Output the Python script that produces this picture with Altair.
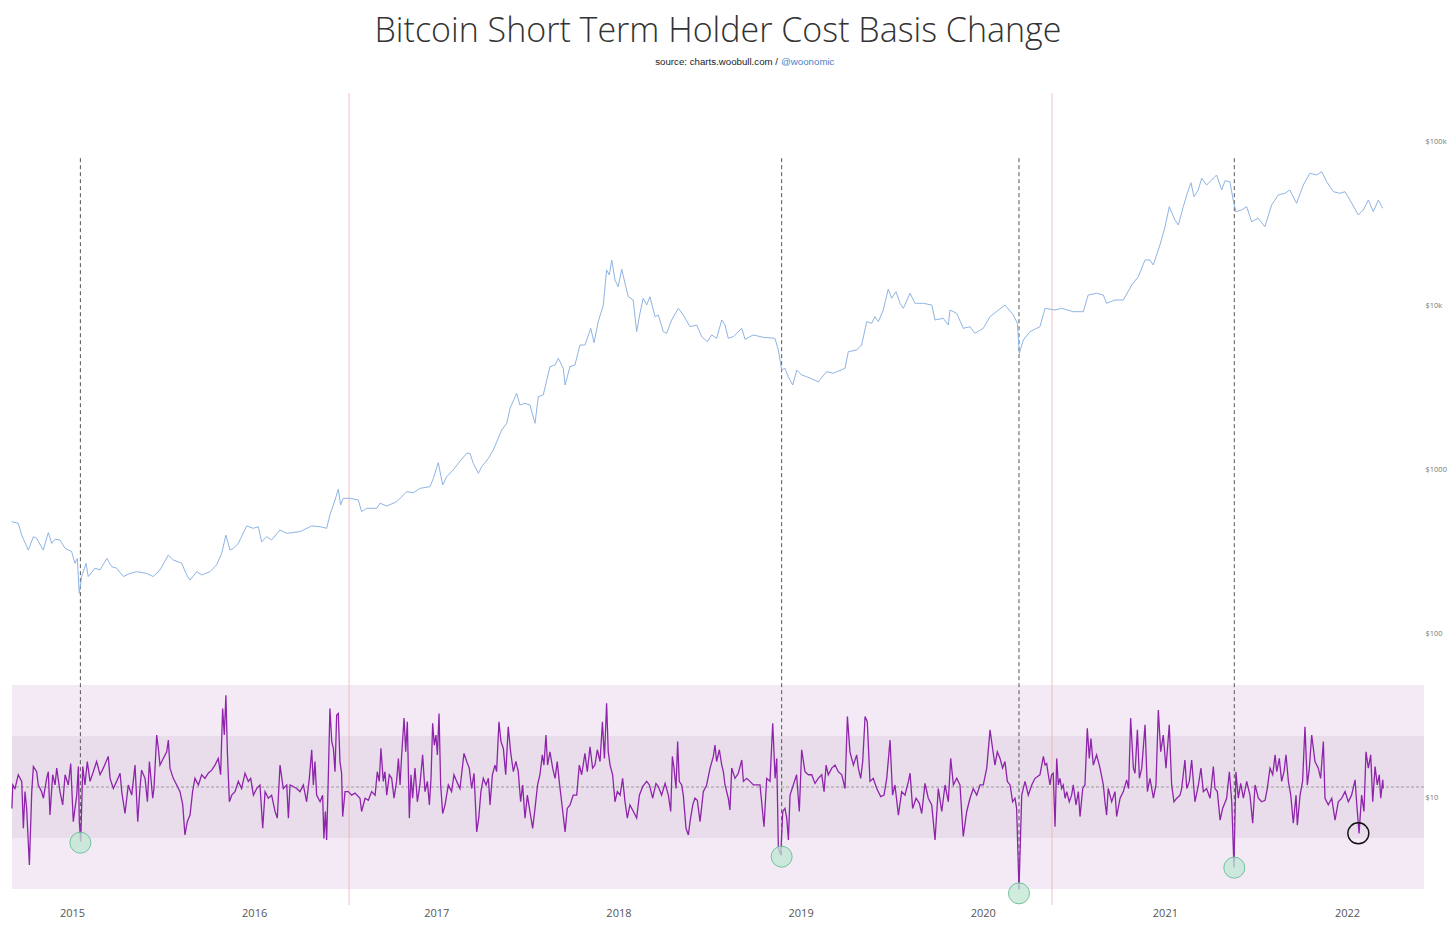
import altair as alt
import pandas as pd

# ---------------- data ----------------
# (decimal year, BTC price in USD)
price_series = [
    (2014.669, 484), (2014.705, 473), (2014.724, 401), (2014.760, 325), (2014.788, 392), (2014.806, 383),
    (2014.842, 325), (2014.870, 415), (2014.889, 357), (2014.907, 378), (2014.934, 374), (2014.962, 333),
    (2014.998, 318), (2015.016, 270), (2015.029, 289), (2015.040, 177), (2015.053, 224), (2015.077, 270),
    (2015.089, 224), (2015.126, 252), (2015.154, 246), (2015.191, 289), (2015.218, 257), (2015.245, 252),
    (2015.282, 224), (2015.318, 234), (2015.355, 240), (2015.410, 234), (2015.446, 224), (2015.483, 246),
    (2015.529, 303), (2015.556, 283), (2015.602, 270), (2015.630, 229), (2015.648, 213), (2015.685, 240),
    (2015.712, 229), (2015.758, 240), (2015.794, 264), (2015.822, 311), (2015.845, 401), (2015.867, 325),
    (2015.886, 333), (2015.913, 357), (2015.959, 456), (2015.995, 441), (2016.023, 451), (2016.041, 365),
    (2016.069, 392), (2016.096, 374), (2016.142, 431), (2016.179, 411), (2016.252, 421), (2016.316, 456),
    (2016.362, 451), (2016.398, 441), (2016.416, 532), (2016.444, 656), (2016.462, 763), (2016.475, 612),
    (2016.489, 672), (2016.526, 672), (2016.572, 656), (2016.590, 557), (2016.618, 584), (2016.673, 584),
    (2016.691, 627), (2016.728, 603), (2016.783, 641), (2016.837, 737), (2016.874, 727), (2016.911, 773),
    (2016.965, 791), (2016.984, 890), (2017.011, 1108), (2017.035, 810), (2017.057, 910), (2017.093, 1000),
    (2017.121, 1099), (2017.167, 1264), (2017.185, 1264), (2017.203, 1099), (2017.231, 955), (2017.249, 1047),
    (2017.286, 1178), (2017.313, 1324), (2017.359, 1754), (2017.387, 1927), (2017.405, 2378), (2017.441, 2936),
    (2017.459, 2490), (2017.487, 2551), (2017.514, 2490), (2017.542, 1927), (2017.560, 2799), (2017.587, 2867),
    (2017.624, 4265), (2017.652, 4368), (2017.670, 4799), (2017.697, 4170), (2017.707, 3298), (2017.734, 4265),
    (2017.761, 4368), (2017.789, 5783), (2017.816, 5783), (2017.848, 7311), (2017.866, 5973), (2017.889, 8025),
    (2017.917, 10141), (2017.935, 16580), (2017.950, 15455), (2017.963, 19080), (2017.981, 14410), (2017.999, 13115),
    (2018.018, 16745), (2018.036, 13750), (2018.054, 11395), (2018.081, 10880), (2018.100, 6971), (2018.118, 9027),
    (2018.136, 11143), (2018.155, 10141), (2018.173, 11395), (2018.201, 8607), (2018.219, 8813), (2018.246, 6971),
    (2018.265, 6816), (2018.292, 8215), (2018.329, 9683), (2018.356, 8813), (2018.393, 7478), (2018.430, 7658),
    (2018.457, 6499), (2018.488, 6057), (2018.512, 6657), (2018.539, 6353), (2018.567, 8215), (2018.585, 7658),
    (2018.603, 6353), (2018.631, 6499), (2018.677, 7311), (2018.695, 6266), (2018.740, 6657), (2018.795, 6443),
    (2018.859, 6353), (2018.878, 5392), (2018.896, 4072), (2018.914, 4170), (2018.932, 3706), (2018.957, 3298),
    (2018.979, 4072), (2019.006, 3796), (2019.033, 3706), (2019.097, 3454), (2019.143, 3975), (2019.179, 3887),
    (2019.244, 4170), (2019.262, 5264), (2019.308, 5392), (2019.335, 5783), (2019.363, 8025), (2019.390, 7844),
    (2019.408, 8607), (2019.427, 8025), (2019.454, 9454), (2019.481, 12642), (2019.500, 11143), (2019.524, 12223),
    (2019.546, 10387), (2019.564, 9683), (2019.601, 11951), (2019.628, 10387), (2019.674, 10387), (2019.720, 10141),
    (2019.738, 8215), (2019.783, 8414), (2019.811, 7658), (2019.820, 9454), (2019.857, 9027), (2019.893, 7311),
    (2019.930, 7478), (2019.957, 6816), (2020.003, 7311), (2020.040, 8607), (2020.122, 10141), (2020.168, 8813),
    (2020.190, 7844), (2020.201, 5148), (2020.223, 6204), (2020.259, 6971), (2020.314, 7478), (2020.342, 9683),
    (2020.397, 9454), (2020.433, 9683), (2020.497, 9231), (2020.552, 9231), (2020.579, 11670), (2020.625, 11951),
    (2020.662, 11670), (2020.680, 10387), (2020.726, 10880), (2020.772, 10880), (2020.818, 13427), (2020.854, 15090),
    (2020.891, 19080), (2020.918, 19080), (2020.936, 17783), (2020.973, 23550), (2021.001, 30440), (2021.024, 40320),
    (2021.055, 33460), (2021.074, 31180), (2021.101, 40320), (2021.120, 47520), (2021.143, 56470), (2021.160, 46400),
    (2021.183, 50970), (2021.202, 60070), (2021.229, 54670), (2021.257, 58650), (2021.284, 62910), (2021.312, 50970),
    (2021.330, 58070), (2021.357, 57260), (2021.375, 44290), (2021.390, 37580), (2021.421, 38490), (2021.449, 40320),
    (2021.476, 32660), (2021.512, 34260), (2021.549, 30440), (2021.586, 41290), (2021.622, 47520), (2021.659, 48670),
    (2021.686, 50970), (2021.723, 42290), (2021.760, 54670), (2021.796, 64430), (2021.833, 62910), (2021.861, 65900),
    (2021.888, 57260), (2021.925, 49780), (2021.961, 48670), (2021.989, 49780), (2022.016, 44290), (2022.062, 35880),
    (2022.089, 38490), (2022.117, 44290), (2022.144, 37580), (2022.172, 44290), (2022.196, 39410),
]

# (decimal year, cost-basis change in standard deviations)
osc_series = [
    (2014.670, -0.42), (2014.675, 0.04), (2014.687, -0.03), (2014.705, 0.24), (2014.724, 0.11), (2014.733, -0.81),
    (2014.742, -0.09), (2014.751, -0.42), (2014.766, -1.53), (2014.779, -0.09), (2014.788, 0.40), (2014.806, 0.30),
    (2014.815, 0.04), (2014.833, -0.09), (2014.843, -0.22), (2014.861, 0.17), (2014.870, 0.30), (2014.879, -0.55),
    (2014.894, 0.24), (2014.907, 0.04), (2014.916, 0.37), (2014.934, -0.09), (2014.949, -0.35), (2014.962, 0.24),
    (2014.980, 0.04), (2014.993, 0.46), (2015.007, -0.68), (2015.026, -0.16), (2015.035, 0.40), (2015.040, -0.68),
    (2015.048, -1.07), (2015.059, 0.40), (2015.071, 0.04), (2015.084, 0.50), (2015.099, 0.11), (2015.117, 0.30),
    (2015.135, 0.50), (2015.154, 0.24), (2015.172, 0.37), (2015.199, 0.60), (2015.209, 0.17), (2015.227, -0.03),
    (2015.245, 0.11), (2015.264, 0.27), (2015.273, -0.09), (2015.291, -0.52), (2015.309, 0.04), (2015.328, -0.16),
    (2015.346, 0.43), (2015.361, -0.68), (2015.373, -0.03), (2015.382, 0.33), (2015.401, 0.17), (2015.414, -0.29),
    (2015.425, 0.50), (2015.443, -0.22), (2015.450, -0.03), (2015.465, 1.02), (2015.474, 0.76), (2015.483, 0.43),
    (2015.501, 0.56), (2015.520, 0.69), (2015.529, 0.92), (2015.538, 0.37), (2015.556, 0.17), (2015.575, 0.04),
    (2015.593, -0.09), (2015.608, -0.35), (2015.620, -0.94), (2015.633, -0.68), (2015.648, -0.55), (2015.662, -0.09),
    (2015.675, 0.17), (2015.694, 0.04), (2015.712, 0.24), (2015.730, 0.17), (2015.748, 0.27), (2015.767, 0.33),
    (2015.785, 0.43), (2015.803, 0.56), (2015.816, 0.24), (2015.827, 1.54), (2015.836, 1.02), (2015.845, 1.80),
    (2015.853, 0.69), (2015.864, -0.29), (2015.877, -0.16), (2015.895, -0.09), (2015.913, 0.11), (2015.931, -0.03),
    (2015.950, 0.27), (2015.968, 0.11), (2015.981, 0.17), (2015.996, -0.16), (2016.014, -0.03), (2016.032, 0.04),
    (2016.047, -0.81), (2016.060, -0.09), (2016.078, -0.22), (2016.096, -0.16), (2016.115, -0.48), (2016.127, -0.61),
    (2016.142, 0.43), (2016.160, -0.03), (2016.179, 0.04), (2016.188, -0.61), (2016.197, 0.04), (2016.215, 0.01),
    (2016.233, -0.03), (2016.252, -0.09), (2016.270, 0.04), (2016.288, -0.29), (2016.303, 0.17), (2016.316, 0.73),
    (2016.325, 0.04), (2016.334, 0.50), (2016.343, -0.16), (2016.362, -0.29), (2016.376, -0.16), (2016.383, -1.01),
    (2016.391, -0.48), (2016.398, -1.04), (2016.407, 0.17), (2016.416, 1.54), (2016.426, 0.89), (2016.435, 0.76),
    (2016.444, 0.30), (2016.453, 1.41), (2016.462, 1.44), (2016.471, 0.50), (2016.480, 0.27), (2016.486, -0.58),
    (2016.499, -0.09), (2016.517, -0.09), (2016.535, -0.16), (2016.554, -0.12), (2016.581, -0.22), (2016.590, -0.48),
    (2016.609, -0.22), (2016.627, -0.26), (2016.645, -0.09), (2016.664, -0.16), (2016.676, 0.30), (2016.687, 0.11),
    (2016.696, 0.76), (2016.709, 0.11), (2016.718, 0.30), (2016.728, -0.16), (2016.742, 0.24), (2016.755, 0.17),
    (2016.768, -0.22), (2016.782, 0.11), (2016.792, 0.56), (2016.801, 0.04), (2016.810, 0.63), (2016.823, 1.35),
    (2016.832, 0.69), (2016.841, 1.28), (2016.852, -0.61), (2016.861, 0.24), (2016.870, -0.22), (2016.883, 0.37),
    (2016.896, -0.29), (2016.910, 0.04), (2016.925, 0.63), (2016.938, -0.09), (2016.951, 0.11), (2016.962, -0.35),
    (2016.971, 0.17), (2016.980, 1.25), (2016.989, 0.82), (2016.998, 1.02), (2017.006, 0.63), (2017.015, 1.44),
    (2017.024, 0.04), (2017.035, -0.52), (2017.048, -0.35), (2017.066, 0.04), (2017.084, -0.09), (2017.097, 0.24),
    (2017.112, 0.11), (2017.130, -0.03), (2017.152, 0.66), (2017.167, 0.50), (2017.181, 0.37), (2017.194, -0.03),
    (2017.207, 0.27), (2017.222, -0.88), (2017.233, -0.61), (2017.245, -0.09), (2017.258, 0.17), (2017.273, 0.04),
    (2017.286, 0.17), (2017.295, -0.35), (2017.308, 0.24), (2017.322, 0.43), (2017.331, 0.30), (2017.344, 1.28),
    (2017.355, 0.89), (2017.368, 0.76), (2017.381, 0.24), (2017.395, 1.18), (2017.408, 0.69), (2017.423, 0.30),
    (2017.437, 0.50), (2017.450, 0.30), (2017.463, -0.29), (2017.474, 0.04), (2017.487, -0.61), (2017.500, -0.16),
    (2017.514, -0.48), (2017.529, -0.81), (2017.542, -0.42), (2017.556, 0.04), (2017.569, 0.24), (2017.582, 0.63),
    (2017.591, 0.43), (2017.602, 1.02), (2017.611, 0.43), (2017.624, 0.69), (2017.639, 0.37), (2017.652, 0.17),
    (2017.664, 0.50), (2017.675, 0.11), (2017.688, -0.29), (2017.707, -0.88), (2017.719, -0.42), (2017.734, -0.35),
    (2017.752, -0.16), (2017.771, -0.16), (2017.785, 0.43), (2017.798, 0.24), (2017.816, 0.66), (2017.829, 0.30),
    (2017.844, 0.79), (2017.858, 0.37), (2017.871, 0.43), (2017.884, 0.73), (2017.899, 0.50), (2017.912, 1.28),
    (2017.923, 0.56), (2017.935, 1.64), (2017.944, 0.69), (2017.954, 0.43), (2017.968, 0.24), (2017.981, -0.29),
    (2017.994, -0.09), (2018.009, -0.16), (2018.023, 0.17), (2018.036, -0.29), (2018.049, -0.61), (2018.063, -0.35),
    (2018.082, -0.48), (2018.100, -0.61), (2018.115, -0.16), (2018.133, 0.01), (2018.155, 0.11), (2018.170, 0.04),
    (2018.188, -0.22), (2018.206, 0.07), (2018.219, 0.01), (2018.237, -0.16), (2018.256, 0.07), (2018.274, -0.16),
    (2018.287, -0.48), (2018.296, 0.60), (2018.305, 0.37), (2018.316, -0.03), (2018.325, 0.89), (2018.334, 0.11),
    (2018.347, 0.04), (2018.356, -0.16), (2018.371, -0.81), (2018.384, -0.94), (2018.393, -0.68), (2018.408, -0.35),
    (2018.420, -0.22), (2018.433, -0.26), (2018.448, -0.68), (2018.466, -0.09), (2018.484, 0.04), (2018.503, 0.37),
    (2018.521, 0.60), (2018.530, 0.82), (2018.539, 0.50), (2018.554, 0.73), (2018.567, 0.43), (2018.576, 0.30),
    (2018.585, 0.04), (2018.603, -0.22), (2018.612, -0.45), (2018.622, 0.37), (2018.640, 0.17), (2018.658, 0.27),
    (2018.677, 0.53), (2018.686, 0.11), (2018.704, 0.17), (2018.722, 0.11), (2018.741, 0.04), (2018.759, 0.04),
    (2018.777, 0.04), (2018.786, -0.29), (2018.799, -0.78), (2018.814, 0.17), (2018.832, 0.11), (2018.847, 1.25),
    (2018.860, 0.17), (2018.869, 0.56), (2018.878, -1.20), (2018.891, -1.33), (2018.902, -0.48), (2018.914, -0.42),
    (2018.924, -0.61), (2018.933, -1.04), (2018.942, -0.16), (2018.960, 0.04), (2018.978, 0.24), (2018.993, -0.48),
    (2019.006, 0.73), (2019.024, 0.30), (2019.043, 0.24), (2019.061, 0.24), (2019.079, 0.07), (2019.097, 0.17),
    (2019.116, 0.24), (2019.129, -0.09), (2019.140, 0.43), (2019.152, 0.24), (2019.171, 0.37), (2019.189, 0.43),
    (2019.207, 0.30), (2019.226, 0.24), (2019.244, -0.03), (2019.257, 1.38), (2019.271, 0.69), (2019.290, 0.43),
    (2019.308, 0.63), (2019.317, 0.37), (2019.330, 0.17), (2019.341, 0.50), (2019.354, 1.38), (2019.366, 1.28),
    (2019.381, 0.11), (2019.399, 0.17), (2019.418, -0.03), (2019.440, -0.19), (2019.458, -0.16), (2019.473, 0.17),
    (2019.491, 0.92), (2019.505, -0.16), (2019.518, 0.04), (2019.537, -0.55), (2019.555, -0.09), (2019.573, -0.16),
    (2019.592, 0.11), (2019.601, 0.27), (2019.615, -0.42), (2019.634, -0.22), (2019.652, -0.32), (2019.665, -0.52),
    (2019.683, 0.07), (2019.701, -0.22), (2019.720, -0.35), (2019.738, -1.04), (2019.756, -0.03), (2019.775, -0.48),
    (2019.793, 0.04), (2019.811, -0.29), (2019.824, 0.56), (2019.839, 0.04), (2019.857, 0.17), (2019.875, 0.04),
    (2019.893, -0.97), (2019.912, -0.48), (2019.930, -0.22), (2019.948, -0.03), (2019.967, -0.16), (2019.985, 0.04),
    (2020.003, 0.04), (2020.022, 0.37), (2020.040, 1.12), (2020.055, 0.73), (2020.067, 0.43), (2020.080, 0.69),
    (2020.095, 0.56), (2020.109, 0.37), (2020.122, 0.50), (2020.135, 0.11), (2020.150, 0.04), (2020.164, -0.29),
    (2020.177, -0.22), (2020.186, -0.42), (2020.199, -2.00), (2020.214, -0.16), (2020.232, 0.11), (2020.250, -0.16),
    (2020.269, 0.04), (2020.287, 0.17), (2020.314, 0.24), (2020.333, 0.60), (2020.342, 0.43), (2020.351, 0.46),
    (2020.360, 0.24), (2020.369, 0.04), (2020.378, 0.24), (2020.387, 0.27), (2020.397, -0.78), (2020.406, 0.56),
    (2020.415, 0.04), (2020.424, 0.17), (2020.433, -0.03), (2020.442, 0.04), (2020.452, -0.22), (2020.461, -0.09),
    (2020.475, -0.29), (2020.488, -0.16), (2020.497, 0.04), (2020.512, -0.35), (2020.525, -0.09), (2020.534, -0.58),
    (2020.549, -0.03), (2020.561, 0.04), (2020.574, 1.15), (2020.585, 0.56), (2020.594, 0.95), (2020.607, 0.43),
    (2020.625, 0.63), (2020.644, 0.37), (2020.662, 0.04), (2020.671, -0.29), (2020.680, -0.55), (2020.689, -0.03),
    (2020.708, -0.29), (2020.726, -0.09), (2020.735, -0.58), (2020.754, -0.22), (2020.772, -0.09), (2020.790, 0.14),
    (2020.801, -0.03), (2020.812, 1.35), (2020.827, 0.37), (2020.836, 0.27), (2020.849, 1.12), (2020.860, 0.17),
    (2020.873, 0.37), (2020.891, 1.22), (2020.904, -0.09), (2020.918, 0.17), (2020.937, -0.22), (2020.951, 0.04),
    (2020.964, 1.51), (2020.977, 0.69), (2020.991, 1.02), (2021.006, 0.37), (2021.024, 1.22), (2021.037, 0.04),
    (2021.050, -0.29), (2021.065, -0.22), (2021.083, -0.16), (2021.092, -0.03), (2021.110, 0.53), (2021.120, -0.03),
    (2021.134, 0.11), (2021.147, 0.53), (2021.165, -0.29), (2021.184, 0.04), (2021.198, 0.37), (2021.211, -0.09),
    (2021.229, -0.03), (2021.248, -0.22), (2021.266, 0.40), (2021.275, -0.03), (2021.288, -0.09), (2021.303, -0.65),
    (2021.317, -0.42), (2021.339, -0.22), (2021.354, 0.30), (2021.367, -0.29), (2021.379, -1.56), (2021.390, 0.30),
    (2021.403, -0.22), (2021.416, 0.07), (2021.431, -0.22), (2021.449, 0.11), (2021.467, -0.16), (2021.482, -0.71),
    (2021.495, 0.04), (2021.513, -0.22), (2021.531, -0.29), (2021.550, -0.26), (2021.562, -0.03), (2021.577, 0.37),
    (2021.592, 0.24), (2021.605, 0.63), (2021.614, 0.30), (2021.628, 0.56), (2021.641, 0.11), (2021.654, 0.30),
    (2021.665, 0.63), (2021.678, 0.11), (2021.691, -0.16), (2021.705, -0.71), (2021.720, -0.16), (2021.727, -0.75),
    (2021.742, -0.16), (2021.756, 0.11), (2021.769, 1.18), (2021.782, 0.04), (2021.793, 0.37), (2021.806, 1.02),
    (2021.824, 0.50), (2021.842, 0.37), (2021.855, 0.17), (2021.870, 0.89), (2021.879, -0.22), (2021.897, -0.35),
    (2021.916, -0.22), (2021.934, -0.65), (2021.952, -0.29), (2021.971, -0.22), (2021.989, -0.09), (2022.007, -0.29),
    (2022.025, -0.16), (2022.044, 0.14), (2022.053, -0.32), (2022.066, -0.91), (2022.080, -0.16), (2022.093, -0.48),
    (2022.104, 0.69), (2022.117, 0.37), (2022.130, 0.63), (2022.141, -0.29), (2022.154, 0.40), (2022.166, 0.04),
    (2022.177, 0.24), (2022.185, -0.22), (2022.196, 0.14), (2022.199, -0.03),
]

halving_years = [2016.521, 2020.380]
bottom_years = [2015.046, 2018.896, 2020.199, 2021.381]
bottom_values = [-1.092, -1.366, -2.085, -1.582]
dash_top_value = 12.33
watch_year = [2022.062]
watch_value = [-0.908]
inner_band = [-1.0, 1.0]
outer_band = [-2.0, 2.0]
year_ticks = [2015, 2016, 2017, 2018, 2019, 2020, 2021, 2022]
price_ticks = [10, 100, 1000, 10000, 100000]

title_text = "Bitcoin Short Term Holder Cost Basis Change"
source_text = "source: charts.woobull.com /"
handle_text = "@woonomic"

# ---------------- layout ----------------
W, H = 1412, 812
X_DOMAIN = [2014.6706, 2022.4225]
PRICE_DOMAIN = [2.2262, 198940]
OSC_DOMAIN = [-2.3137, 13.6078]

price_df = pd.DataFrame(price_series, columns=["year", "price"])
osc_df = pd.DataFrame(osc_series, columns=["year", "value"])
halving_df = pd.DataFrame({"year": halving_years})
bottoms_df = pd.DataFrame({"year": bottom_years, "value": bottom_values,
                           "top": [dash_top_value] * len(bottom_years)})
watch_df = pd.DataFrame({"year": watch_year, "value": watch_value})
bands_df = pd.DataFrame({"lo": [outer_band[0], inner_band[0]], "hi": [outer_band[1], inner_band[1]],
                         "band": ["outer", "inner"]})
zero_df = pd.DataFrame({"value": [0.0]})
text_df = pd.DataFrame({"t": [source_text]})
handle_df = pd.DataFrame({"t": [handle_text]})

FONT = "Open Sans"

x_enc = alt.X("year:Q",
              scale=alt.Scale(domain=X_DOMAIN, nice=False, zero=False),
              axis=alt.Axis(values=year_ticks, format="d", title=None, ticks=False, domain=False,
                            grid=False, labelFontSize=11, labelColor="#555555", labelPadding=2,
                            labelFont=FONT))
osc_scale = alt.Scale(domain=OSC_DOMAIN, nice=False, zero=False)


def osc_y(field):
    return alt.Y(field, scale=osc_scale, axis=None)


bands = alt.Chart(bands_df).mark_rect().encode(
    y=osc_y("lo:Q"), y2="hi:Q",
    color=alt.Color("band:N", scale=alt.Scale(domain=["outer", "inner"], range=["#f3eaf6", "#e9ddec"]),
                    legend=None),
)

zero_line = alt.Chart(zero_df).mark_rule(color="#8a8a8a", strokeDash=[3, 2], strokeWidth=0.8).encode(
    y=osc_y("value:Q")
)

halvings = alt.Chart(halving_df).mark_rule(color="#f3a3a3", strokeWidth=0.7).encode(x=x_enc)

dash_lines = alt.Chart(bottoms_df).mark_rule(color="#555555", strokeDash=[4, 3], strokeWidth=1).encode(
    x=x_enc, y=osc_y("top:Q"), y2="value:Q"
)

price_line = alt.Chart(price_df).mark_line(color="#8fb4e3", strokeWidth=1, interpolate="linear").encode(
    x=x_enc,
    y=alt.Y("price:Q",
            scale=alt.Scale(type="log", domain=PRICE_DOMAIN, nice=False),
            axis=alt.Axis(orient="right", values=price_ticks, title=None, ticks=False, domain=False,
                          grid=False, labelFontSize=7.5, labelColor="#777777", labelPadding=1,
                          labelFont=FONT,
                          labelExpr="datum.value >= 10000 ? '$' + format(datum.value / 1000, 'd') + 'k' : '$' + format(datum.value, 'd')")),
)

osc_line = alt.Chart(osc_df).mark_line(color="#8e24aa", strokeWidth=1.3).encode(
    x=x_enc, y=osc_y("value:Q")
)

bottom_marks = alt.Chart(bottoms_df).mark_point(
    shape="circle", filled=True, size=441, fill="#bfe6d2", fillOpacity=0.75,
    stroke="#6fc39c", strokeWidth=1, opacity=1
).encode(x=x_enc, y=osc_y("value:Q"))

watch_mark = alt.Chart(watch_df).mark_point(
    shape="circle", filled=False, size=441, stroke="#111111", strokeWidth=1.4, opacity=1
).encode(x=x_enc, y=osc_y("value:Q"))

source_mark = alt.Chart(text_df).mark_text(
    align="right", baseline="middle", font="Liberation Sans", fontSize=9.7, color="#222222"
).encode(x=alt.value(766), y=alt.value(-31), text="t:N")

handle_mark = alt.Chart(handle_df).mark_text(
    align="left", baseline="middle", font="Liberation Sans", fontSize=9.7, color="#4a7fc4"
).encode(x=alt.value(769), y=alt.value(-31), text="t:N")

chart = alt.layer(
    bands, zero_line, halvings, dash_lines, price_line, osc_line, bottom_marks, watch_mark,
    source_mark, handle_mark
).resolve_scale(
    y="independent", color="independent"
).properties(
    width=W, height=H,
    background="white",
    autosize=alt.AutoSizeParams(type="none"),
    padding={"left": 4, "top": 85, "right": 24, "bottom": 13},
    title=alt.TitleParams(title_text, font=FONT, fontWeight=300, fontSize=34, color="#333333",
                          anchor="middle", frame="group", baseline="alphabetic", offset=-19),
).configure_view(stroke=None)

chart.save("out.html", embed_options={"renderer": "svg", "actions": False})
